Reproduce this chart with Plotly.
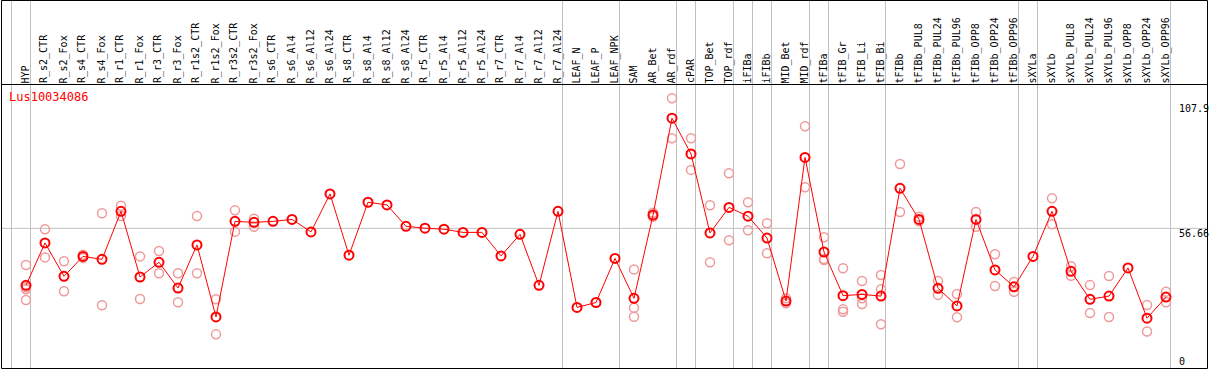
import plotly.graph_objects as go

categories = [
    "HYP", "R_s2_CTR", "R_s2_Fox", "R_s4_CTR", "R_s4_Fox", "R_r1_CTR", "R_r1_Fox",
    "R_r3_CTR", "R_r3_Fox", "R_r1s2_CTR", "R_r1s2_Fox", "R_r3s2_CTR", "R_r3s2_Fox",
    "R_s6_CTR", "R_s6_Al4", "R_s6_Al12", "R_s6_Al24", "R_s8_CTR", "R_s8_Al4",
    "R_s8_Al12", "R_s8_Al24", "R_r5_CTR", "R_r5_Al4", "R_r5_Al12", "R_r5_Al24",
    "R_r7_CTR", "R_r7_Al4", "R_r7_Al12", "R_r7_Al24", "LEAF_N", "LEAF_P", "LEAF_NPK",
    "SAM", "AR_Bet", "AR_rdf", "cPAR", "TOP_Bet", "TOP_rdf", "iFIBa", "iFIBb",
    "MID_Bet", "MID_rdf", "tFIBa", "tFIB_Gr", "tFIB_Li", "tFIB_Bi", "tFIBb",
    "tFIBb_PUL8", "tFIBb_PUL24", "tFIBb_PUL96", "tFIBb_OPP8", "tFIBb_OPP24",
    "tFIBb_OPP96", "sXYLa", "sXYLb", "sXYLb_PUL8", "sXYLb_PUL24", "sXYLb_PUL96",
    "sXYLb_OPP8", "sXYLb_OPP24", "sXYLb_OPP96",
]

means = [
    33.4, 50.7, 37.1, 45.2, 44.0, 63.6, 36.8, 42.8, 32.3, 49.9, 20.5, 59.5, 59.1,
    59.5, 60.3, 55.2, 70.7, 45.7, 67.3, 66.2, 57.5, 56.7, 56.3, 55.0, 55.0,
    45.4, 54.2, 33.4, 63.6, 24.4, 26.4, 44.4,
    28.1, 62.1, 101.6, 87.0, 54.8, 65.2, 61.6, 52.7,
    27.0, 85.6, 47.0, 29.2, 29.7, 29.0, 73.0,
    60.3, 32.2, 25.0, 60.3, 39.7, 32.8,
    45.2, 63.6, 39.1, 27.7, 29.0, 40.5, 20.0, 28.6,
]

replicates = [
    [41.7, 32.6, 31.8, 27.4], [56.3, 44.8], [43.2, 31.0], [45.9, 44.6], [62.8, 25.3],
    [65.9, 61.7], [45.2, 27.8], [47.4, 38.3], [38.3, 26.5], [61.7, 38.3],
    [27.7, 13.4], [64.0, 55.3], [60.6, 57.3],
    [], [], [], [], [], [], [], [], [], [], [], [],
    [], [], [], [], [], [], [],
    [39.9, 24.3, 20.6], [63.0, 61.4], [109.7, 93.4], [93.4, 80.5], [66.1, 42.8],
    [79.1, 51.8], [67.3, 55.9], [58.7, 46.5],
    [28.1, 26.1], [98.3, 73.4], [53.0, 44.1, 43.7], [40.4, 23.6, 22.6],
    [35.2, 28.1, 25.8], [37.6, 31.8, 17.5], [82.9, 63.3],
    [61.4, 59.5], [35.2, 29.5], [29.9, 20.4], [63.3, 57.3], [46.1, 33.1], [34.8, 30.8],
    [], [68.9, 58.3], [41.2, 37.3], [33.5, 22.1], [37.2, 20.5], [], [25.4, 14.6],
    [30.8, 26.5],
]

group_breaks = [-1, 0, 28, 31, 34, 35, 37, 38, 39, 41, 42, 45, 52, 53, 60]
scale_labels = ["107.9", "56.66", "0"]
scale_values = [107.9, 56.66, 0]
gene_id = "Lus10034086"

# ---- layout geometry (pixels) ----
W, H = 1209, 370
X0_PX, X_STEP = 26.0, 19.0
Y0_PX, Y_SCALE = 367.2, 2.451
FONT = "DejaVu Sans Mono"


def px_x(p):
    return p / W


def px_y(p):
    return 1 - p / H


x_range = [-X0_PX / X_STEP, (W - X0_PX) / X_STEP]
y_range = [-(H - Y0_PX) / Y_SCALE, Y0_PX / Y_SCALE]

idx = list(range(len(categories)))
rep_x, rep_y = [], []
for i, reps in enumerate(replicates):
    for v in reps:
        rep_x.append(i)
        rep_y.append(v)

fig = go.Figure()
fig.add_trace(go.Scatter(
    x=rep_x, y=rep_y, mode="markers",
    marker=dict(symbol="circle-open", size=9, color="#ef9a9a",
                line=dict(color="#ef9a9a", width=1.5)),
    hoverinfo="skip", showlegend=False,
))
fig.add_trace(go.Scatter(
    x=idx, y=means, mode="lines+markers",
    line=dict(color="#ff0000", width=1),
    marker=dict(symbol="circle-open", size=9, color="#ff0000",
                line=dict(color="#ff0000", width=2)),
    hoverinfo="skip", showlegend=False,
))

shapes = []
for k in group_breaks:
    xb = k + 4.5 / X_STEP
    shapes.append(dict(type="line", xref="x", yref="paper", x0=xb, x1=xb,
                       y0=px_y(369), y1=1, line=dict(color="#c0c0c0", width=1),
                       layer="below"))
shapes.append(dict(type="line", xref="paper", yref="y", x0=px_x(1), x1=px_x(1208),
                   y0=56.66, y1=56.66, line=dict(color="#c0c0c0", width=1), layer="below"))
# frame
shapes.append(dict(type="rect", xref="paper", yref="paper", x0=px_x(1.5), x1=px_x(1207.5),
                   y0=px_y(368.5), y1=px_y(0.5), line=dict(color="black", width=1)))
shapes.append(dict(type="line", xref="paper", yref="paper", x0=px_x(1.5), x1=px_x(1207.5),
                   y0=px_y(84.5), y1=px_y(84.5), line=dict(color="black", width=1)))

annotations = []
for i, c in enumerate(categories):
    annotations.append(dict(
        x=i, xref="x", y=px_y(83.5), yref="paper", text=c, showarrow=False,
        textangle=-90, xanchor="center", yanchor="bottom", xshift=-1,
        borderpad=0, borderwidth=0,
        font=dict(family=FONT, size=10, color="black"),
    ))
annotations.append(dict(
    x=px_x(9), xref="paper", y=px_y(97), yref="paper", text=gene_id, showarrow=False,
    xanchor="left", yanchor="middle", borderpad=0, borderwidth=0,
    font=dict(family=FONT, size=12, color="#ff0000"),
))
for lab, v in zip(scale_labels, scale_values):
    annotations.append(dict(
        x=px_x(1179), xref="paper", y=v, yref="y", text=lab, showarrow=False,
        xanchor="left", yanchor="bottom" if v == 0 else "top",
        borderpad=0, borderwidth=0,
        font=dict(family=FONT, size=10, color="black"),
    ))

fig.update_layout(
    width=W, height=H, autosize=False,
    margin=dict(l=0, r=0, t=0, b=0, pad=0),
    paper_bgcolor="white", plot_bgcolor="white",
    xaxis=dict(range=x_range, visible=False, fixedrange=True),
    yaxis=dict(range=y_range, visible=False, fixedrange=True),
    shapes=shapes, annotations=annotations,
    showlegend=False,
)

fig.write_html(
    "out.html",
    config={"displayModeBar": False, "staticPlot": True},
    post_script="document.body.style.margin='0';document.body.style.overflow='hidden';",
)
